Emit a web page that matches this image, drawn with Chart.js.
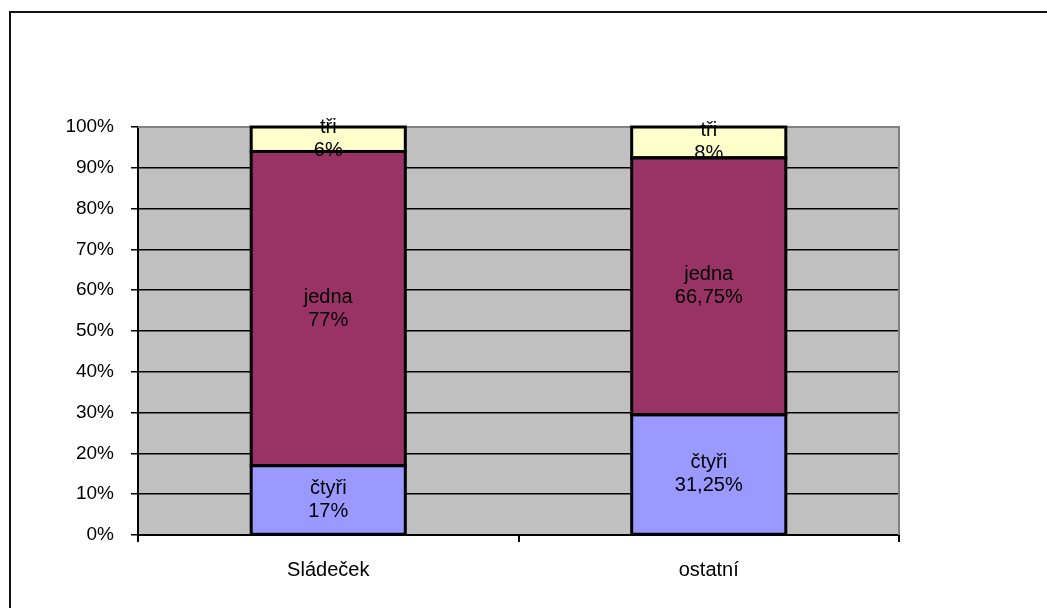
<!DOCTYPE html>
<html>
<head>
<meta charset="utf-8">
<script src="https://cdn.jsdelivr.net/npm/chart.js@4/dist/chart.umd.min.js"></script>
<style>
  html, body { margin: 0; padding: 0; background: #fff; }
  #wrap { width: 1047px; height: 608px; position: relative; }
</style>
</head>
<body>
<div id="wrap"><canvas id="chart" width="1047" height="608"></canvas></div>
<script>
// data (labels show raw values, bars are 100% stacked)
const categories = ["Sládeček", "ostatní"];
const seriesNames = ["čtyři", "jedna", "tři"];
const ctyri = [17, 31.25];
const jedna = [77, 66.75];
const tri = [6, 8];
const yTicks = [0, 10, 20, 30, 40, 50, 60, 70, 80, 90, 100];

const raw = [ctyri, jedna, tri];
const colors = ["#9999FF", "#993366", "#FFFFCC"];
const totals = categories.map((c, i) => raw.reduce((s, arr) => s + arr[i], 0));

function fmt(v) {
  return String(v).replace(".", ",") + "%";
}

const plotArea = {
  id: "plotArea",
  beforeDraw(chart) {
    const { ctx, chartArea: a } = chart;
    ctx.save();
    ctx.fillStyle = "#C0C0C0";
    ctx.fillRect(a.left, a.top, a.right - a.left, a.bottom - a.top);
    // outer chart frame (only top and left visible)
    ctx.strokeStyle = "#111";
    ctx.lineWidth = 2;
    ctx.beginPath();
    ctx.moveTo(10, 608);
    ctx.lineTo(10, 12);
    ctx.lineTo(1047, 12);
    ctx.stroke();
    ctx.restore();
  },
  beforeDatasetsDraw(chart) {
    const { ctx, chartArea: a } = chart;
    ctx.save();
    ctx.strokeStyle = "#808080";
    ctx.lineWidth = 2;
    ctx.beginPath();
    ctx.moveTo(a.left, a.top);
    ctx.lineTo(a.right, a.top);
    ctx.lineTo(a.right, a.bottom);
    ctx.stroke();
    ctx.restore();
  }
};

// single black outline around every segment, then the two-line labels
const segLabels = {
  id: "segLabels",
  afterDatasetsDraw(chart) {
    const { ctx } = chart;
    ctx.save();
    ctx.strokeStyle = "#000";
    ctx.lineWidth = 3;
    chart.data.datasets.forEach((ds, di) => {
      chart.getDatasetMeta(di).data.forEach(el => {
        const top = Math.min(el.y, el.base), bot = Math.max(el.y, el.base);
        ctx.strokeRect(el.x - el.width / 2, top, el.width, bot - top);
      });
    });
    ctx.font = "20px 'Liberation Sans', Arial, sans-serif";
    ctx.fillStyle = "#000";
    ctx.textAlign = "center";
    ctx.textBaseline = "middle";
    chart.data.datasets.forEach((ds, di) => {
      chart.getDatasetMeta(di).data.forEach((el, i) => {
        const cy = (el.y + el.base) / 2;
        ctx.fillText(ds.label, el.x, cy - 11.5);
        ctx.fillText(fmt(raw[di][i]), el.x, cy + 11.5);
      });
    });
    ctx.restore();
  }
};

new Chart(document.getElementById("chart"), {
  type: "bar",
  data: {
    labels: categories,
    datasets: seriesNames.map((name, di) => ({
      label: name,
      data: raw[di].map((v, i) => v / totals[i] * 100),
      backgroundColor: colors[di],
      borderWidth: 0,
      categoryPercentage: 1,
      barPercentage: 0.405
    }))
  },
  options: {
    responsive: false,
    animation: false,
    layout: { padding: { left: 0, right: 148, top: 127, bottom: 0 } },
    plugins: {
      legend: { display: false },
      tooltip: { enabled: false }
    },
    scales: {
      x: {
        stacked: true,
        afterFit(s) { s.height = 73; },
        border: { color: "#000", width: 2 },
        grid: { offset: true, drawOnChartArea: false, color: "#000", lineWidth: 2, tickLength: 7 },
        ticks: { color: "#000", padding: 16, font: { size: 20, family: "'Liberation Sans', Arial, sans-serif" } }
      },
      y: {
        stacked: true,
        min: 0,
        max: 100,
        afterFit(s) { s.width = 138; },
        afterBuildTicks(s) { s.ticks = yTicks.map(v => ({ value: v })); },
        border: { color: "#000", width: 2 },
        grid: { color: "#000", lineWidth: 1.5, tickLength: 7 },
        ticks: {
          color: "#000",
          padding: 17,
          font: { size: 19, family: "'Liberation Sans', Arial, sans-serif" },
          callback: v => v + "%"
        }
      }
    }
  },
  plugins: [plotArea, segLabels]
});
</script>
</body>
</html>
